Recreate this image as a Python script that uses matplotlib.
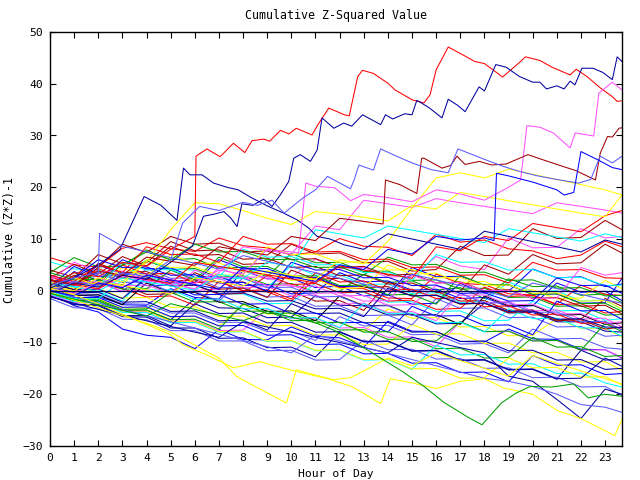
import matplotlib
matplotlib.use("Agg")
import matplotlib.pyplot as plt

plt.rcParams['font.family'] = ['DejaVu Sans Mono']

# hourly grid for the bulk of the walks
hours = list(range(24)) + [23.7]

# colours seen in the picture
red = '#ff0000'
green = '#00a000'
blue = '#0000ff'
magenta = '#ff50ff'
cyan = '#00ffff'
darkred = '#a00000'
yellow = '#ffff00'
black = '#000000'
navy = '#0000a0'
peri = '#5a5aff'

bulk = [
    [6.4, 5.0, 4.6, 8.2, 9.3, 8.1, 7.6, 10.2, 8.7, 8.3, 6.9, 7.5, 10.1, 8.6, 8.4, 6.8, 10.9, 9.4, 9.8, 8.1, 7.7, 6.2, 6.9, 9.6, 8.5],
    [1.5, 0.2, 3.9, 2.5, 5.8, 4.1, 4.3, 2.6, 2.9, 1.2, 1.4, -0.3, -0.1, 3.2, 1.6, 1.9, 0.1, 0.6, -1.5, 2.3, 0.8, 0.9, -0.9, -0.6, -2.3],
    [0.5, -0.8, -1.1, -2.7, -2.8, 0.4, -1.3, -1.6, 3.9, 2.3, 2.4, 0.6, 0.9, -1.0, -0.8, -2.6, -2.4, 1.4, -0.4, -0.1, 4.2, 2.5, 2.7, 0.8, 1.3],
    [2.0, 0.9, 0.8, 3.6, 1.8, 1.9, 0.1, 0.3, 4.1, 2.3, 2.6, 6.1, 4.3, 4.5, 2.6, 2.9, 6.6, 4.8, 4.1, 10.2, 8.3, 8.4, 12.0, 10.2, 10.5],
    [5.6, 4.2, 4.0, 2.3, 6.0, 4.2, 4.0, 2.2, 2.4, 0.6, 4.9, 3.0, 3.1, 1.2, 1.3, -0.6, -0.4, -2.3, -2.0, 1.7, -0.2, 0.0, -2.0, -1.8, -3.6],
    [2.5, 5.1, 3.2, 6.6, 4.8, 8.6, 6.8, 7.0, 5.1, 5.3, 9.0, 7.1, 7.3, 5.4, 5.7, 3.8, 4.1, 8.6, 6.8, 6.9, 12.0, 10.1, 10.3, 13.6, 11.8],
    [0.0, -1.4, -1.6, -3.3, -3.3, -5.1, -5.0, -6.8, -2.7, -4.5, -4.4, -6.2, -6.1, -7.9, -3.5, -5.3, -5.2, -7.0, -6.9, -8.7, -8.6, -5.4, -7.3, -7.2, -9.0],
    [-0.5, -1.9, -2.1, -3.8, -3.9, -5.6, -1.5, -3.3, -3.4, -5.2, -5.1, -0.9, -2.8, -2.9, -4.7, -4.6, -6.4, -6.3, -2.4, -4.3, -4.2, -6.0, -6.0, -7.8, -8.0],
    [0.8, -0.6, -0.7, -2.5, -2.6, -4.3, -4.3, -6.1, -6.1, -7.9, -7.8, -9.6, -5.0, -6.8, -6.7, -8.5, -8.4, -10.3, -10.2, -12.0, -7.4, -9.3, -9.2, -11.0, -11.3],
    [-0.3, -2.9, -4.1, -7.4, -8.6, -9.0, -11.2, -7.5, -9.4, -9.5, -7.0, -8.8, -9.1, -10.9, -5.9, -7.8, -7.9, -9.8, -9.9, -7.4, -9.3, -9.4, -11.3, -11.4, -13.0],
    [0.9, 2.6, 1.3, 0.4, -1.2, -1.0, -2.8, 1.8, 0.0, -0.2, -2.0, 2.4, 0.6, 0.4, -1.4, -1.5, 3.2, 1.4, 1.2, -0.6, -0.8, -2.6, 1.1, -0.7, -0.9],
    [3.5, 6.4, 4.6, 4.8, 7.9, 6.0, 6.2, 4.4, 4.5, 2.7, 7.2, 5.4, 5.5, 3.7, 3.8, 2.0, 2.1, 0.3, 0.5, -1.3, -1.2, -3.0, -2.9, -4.7, -4.6],
    [2.2, 0.9, 5.0, 3.2, 3.3, 1.5, 1.6, 6.0, 4.2, 4.3, 2.5, 2.6, 0.8, 0.9, -0.9, 4.5, 2.7, 2.8, 1.0, 1.1, -0.7, -0.6, -2.4, -2.3, 2.4],
    [-0.8, -2.3, -2.3, -4.1, -4.0, -5.9, -5.8, -7.7, -7.6, -3.5, -5.4, -5.3, -7.2, -7.1, -9.0, -8.9, -10.8, -6.0, -7.9, -7.8, -9.7, -9.6, -11.5, -11.4, -12.9],
    [1.2, -0.2, -0.1, -2.0, 3.0, 1.1, 1.2, -0.7, -0.6, -2.5, -2.4, 1.5, -0.4, -0.3, -2.2, -2.1, -4.0, -3.9, -5.8, -5.7, -2.0, -3.9, -3.8, -5.7, -5.4],
    [0.3, 3.0, 1.1, 1.2, -0.7, -0.6, 3.5, 1.6, 1.7, -0.2, -0.1, -2.0, -1.9, -3.8, 1.7, -0.2, -0.1, -2.0, -1.9, -3.8, -3.7, -5.6, -5.5, -1.5, -3.0],
    [1.8, 0.4, 0.5, -1.4, -1.3, -3.2, -3.1, -5.0, -4.9, -6.8, -6.7, -8.6, -8.5, -10.4, -10.3, -6.5, -8.4, -8.3, -10.2, -10.1, -12.0, -11.9, -13.8, -13.7, -15.4],
    [-1.0, -2.7, -2.9, -5.0, -5.1, -7.2, -7.2, -9.2, -9.1, -11.0, -10.9, -12.8, -8.0, -9.9, -9.8, -11.7, -11.6, -13.5, -13.4, -15.3, -15.2, -17.1, -11.5, -13.4, -13.2],
    [3.0, 1.6, 1.7, -0.2, 4.3, 2.4, 2.5, 0.6, 0.7, -1.2, -1.1, -3.0, -2.9, -4.8, -4.7, -6.6, -1.5, -3.4, -3.3, -5.2, -5.1, -7.0, -6.9, -8.8, -8.6],
    [1.5, 0.2, 4.3, 2.5, 2.7, 0.9, 1.1, -0.7, -0.5, 3.0, 1.2, 1.4, -0.4, -0.2, -2.0, -1.8, -3.6, -3.4, 0.7, -1.1, -0.9, -2.7, -2.5, -4.3, -4.0],
    [-0.2, -1.6, -1.7, -3.6, -3.5, -0.3, -2.2, -2.1, -4.0, -3.9, -5.8, -5.7, -7.6, -7.5, -9.4, -9.3, -11.2, -11.1, -13.0, -12.9, -9.0, -10.9, -10.8, -12.7, -12.5],
    [0.0, 3.7, 1.9, 6.0, 4.2, 4.4, 2.6, 2.8, 1.0, 1.2, -0.6, -0.4, 3.5, 1.7, 1.9, 0.1, 0.3, -1.5, -1.3, -3.1, -2.9, 1.5, -0.3, -0.1, -1.9],
    [2.8, 1.5, 1.7, -0.1, 0.1, 4.0, 2.2, 2.4, 0.6, 0.8, -1.0, -0.8, -2.6, -2.4, -4.2, -4.0, -5.8, -0.5, -2.3, -2.1, -3.9, -3.7, -5.5, -5.3, -7.0],
    [-0.6, -2.1, -2.2, -4.2, -4.2, -6.2, -6.1, -8.0, -7.9, -9.8, -9.7, -11.6, -11.5, -13.4, -13.3, -15.2, -10.5, -12.4, -12.3, -14.2, -14.1, -16.0, -15.9, -17.8, -18.6],
    [4.0, 2.6, 7.0, 5.2, 5.4, 9.5, 7.7, 7.9, 6.1, 6.3, 4.5, 4.7, 2.9, 3.1, 1.3, 1.5, -0.3, -0.1, 5.0, 3.2, 7.0, 5.2, 5.4, 9.0, 7.3],
    [-0.3, -1.8, -1.9, -3.9, -3.9, -5.9, -5.9, -7.9, -7.8, -9.7, -9.6, -11.5, -11.4, -13.3, -13.2, -15.1, -15.0, -16.9, -16.8, -13.0, -14.9, -14.8, -16.7, -16.6, -18.2],
    [0.5, -0.9, -0.8, -2.7, 1.5, -0.4, -0.3, -2.2, -2.1, -4.0, -3.9, -5.8, -1.0, -2.9, -2.8, -4.7, -4.6, -6.5, -1.0, -2.9, -2.8, -4.7, -4.6, -6.5, -6.2],
    [1.0, -0.4, -0.3, -2.2, -2.1, -4.0, -3.9, -5.8, -5.7, -7.6, -2.5, -4.4, -4.3, -6.2, -6.1, -8.0, -7.9, -9.8, -9.7, -11.6, -11.5, -13.4, -13.3, -15.2, -15.0],
    [-1.5, -3.3, -3.4, -5.5, -5.6, -7.7, -7.7, -9.7, -9.7, -11.6, -11.5, -13.4, -13.3, -9.5, -11.4, -11.3, -13.2, -13.1, -15.0, -14.9, -16.8, -16.7, -18.6, -18.5, -20.2],
    [0.8, 4.7, 2.8, 2.9, 1.0, 1.1, -0.8, -0.7, -2.6, -2.5, -4.4, -4.3, -6.2, -6.1, -8.0, -3.0, -4.9, -4.8, -6.7, -6.6, -8.5, -2.0, -3.9, -3.8, -5.5],
    [2.6, 1.3, 1.5, 5.0, 3.2, 3.4, 1.6, 1.8, 0.0, 0.2, -1.6, 3.5, 1.7, 1.9, 0.1, 0.3, -1.5, -1.3, -3.1, -2.9, -4.7, -4.5, -6.3, -6.1, -7.5],
    [-0.4, -1.9, -1.9, -3.8, -3.7, -5.6, -5.5, -7.4, -2.5, -4.4, -4.3, -6.2, -6.1, -8.0, -7.9, -9.8, -9.7, -6.0, -7.9, -7.8, -9.7, -9.6, -11.5, -6.3, -7.9],
    [0.2, -1.3, -1.3, -3.2, -3.1, -5.0, -4.9, -6.8, -6.7, -8.6, -8.5, -10.4, -10.3, -12.2, -12.1, -14.0, -13.9, -15.8, -15.7, -17.6, -12.5, -14.4, -14.3, -16.2, -16.0],
    [1.8, 5.5, 3.7, 3.8, 1.9, 2.0, 0.1, 4.5, 2.6, 2.7, 0.8, 0.9, -1.0, -0.9, -2.8, -2.7, 1.0, -0.9, -0.8, -2.7, -2.6, -4.5, -4.4, -6.3, -6.0],
    [-0.1, -1.5, -1.6, 2.0, 0.1, 0.2, -1.7, -1.6, -3.5, -3.4, -5.3, -5.2, -7.1, -2.5, -4.4, -4.3, -6.2, -6.1, -8.0, -3.5, -5.4, -5.3, -7.2, -7.1, -8.8],
    [2.2, 0.9, 5.3, 3.5, 3.7, 1.9, 2.1, 0.3, 0.5, -1.3, 4.0, 2.2, 2.4, 0.6, 0.8, -1.0, -0.8, -2.6, -2.4, -4.2, -4.0, -5.8, -5.6, -7.4, -7.0],
    [1.3, 0.0, 0.2, 4.5, 2.7, 7.0, 5.2, 5.4, 3.6, 3.8, 2.0, 2.2, 0.4, 0.6, 5.0, 3.2, 3.4, 1.6, 1.8, 0.0, 0.2, -1.6, -1.4, 2.0, 0.4],
    [-1.0, -2.6, -2.7, -4.8, -4.8, -6.8, -2.5, -4.4, -4.3, -6.2, -6.1, -8.0, -7.9, -9.8, -9.7, -11.6, -11.5, -13.4, -13.3, -15.2, -15.1, -17.0, -16.9, -13.0, -14.6],
    [0.6, -0.8, 3.5, 1.6, 1.7, -0.2, -0.1, -2.0, 2.5, 0.6, 0.7, -1.2, -1.1, -3.0, -2.9, -4.8, -4.7, -0.5, -2.4, -2.3, -4.2, -4.1, -6.0, -5.9, -7.6],
    [3.5, 2.1, 2.2, 0.3, 0.4, 4.0, 2.1, 6.5, 4.6, 4.7, 2.8, 2.9, 1.0, 1.1, -0.8, -0.7, -2.6, 3.0, 1.1, 1.2, -0.7, -0.6, -2.5, -2.4, -4.0],
    [2.0, 0.8, 4.5, 9.0, 7.4, 10.5, 9.0, 9.2, 7.5, 7.7, 6.0, 6.2, 4.5, 4.7, 3.0, 3.2, 1.5, 1.7, 0.0, 0.2, -1.5, -1.3, -3.0, -2.8, -4.5],
    [1.0, 3.5, 2.0, 5.0, 7.5, 6.0, 9.0, 7.5, 7.6, 6.0, 6.1, 4.5, 4.6, 3.0, 6.5, 5.0, 5.1, 3.5, 3.6, 2.0, 2.1, 0.5, 0.6, -1.0, -0.9],
    [3.0, 1.8, 5.0, 3.5, 8.5, 7.0, 7.1, 5.5, 10.5, 9.0, 9.1, 7.5, 7.6, 6.0, 6.1, 4.5, 4.6, 3.0, 3.1, 1.5, 5.5, 4.0, 4.1, 2.5, 2.4],
    [2.0, 0.8, 0.9, 5.5, 4.0, 4.1, 2.5, 2.6, 8.0, 6.5, 6.6, 5.0, 5.1, 3.5, 3.6, 2.0, 7.0, 5.5, 5.6, 4.0, 4.1, 2.5, 2.6, 1.0, 1.1],
    [1.0, -0.2, 2.5, 1.0, 1.1, -0.5, 4.0, 2.5, 2.6, 1.0, 1.1, -0.5, -0.4, -2.0, -1.9, 3.0, 1.5, 1.6, 0.0, 0.1, -1.5, -1.4, 4.5, 3.0, 3.5],
    [0.0, 2.5, 6.0, 4.5, 4.6, 3.0, 3.1, 1.5, 1.6, 0.0, 5.5, 4.0, 4.1, 2.5, 2.6, 1.0, 1.1, -0.5, -0.4, -2.0, -1.9, 2.5, 1.0, 1.1, -0.5],
    [1.5, 0.2, 0.3, -1.5, 2.5, 1.0, 1.1, -0.5, -0.4, -2.0, -1.9, -3.5, -3.4, -5.0, 0.5, -1.0, -0.9, -2.5, -2.4, -4.0, -3.9, -5.5, -5.4, -7.0, -7.1],
    [0.5, 2.5, 1.0, 1.1, 6.0, 4.5, 4.6, 3.0, 3.1, 8.5, 7.0, 7.1, 5.5, 5.6, 4.0, 4.1, 2.5, 2.6, 1.0, 1.1, -0.5, -0.4, -2.0, -1.9, -3.5],
    # walks that end in the middle band
    [2.0, 1.1, 0.3, 2.8, 2.0, 1.2, 0.4, 3.5, 8.5, 7.8, 7.1, 12.5, 11.8, 17.5, 16.8, 16.1, 17.8, 17.0, 16.3, 15.6, 14.9, 17.0, 16.3, 15.6, 15.0],
    [1.5, 0.7, -0.1, 2.5, 1.7, 0.9, 0.1, 3.2, 2.4, 5.5, 4.7, 11.8, 11.0, 10.2, 12.5, 11.7, 10.9, 10.1, 9.3, 12.0, 11.2, 10.4, 9.6, 11.0, 10.3],
    [2.0, 1.2, 0.4, 3.0, 2.2, 1.4, 5.5, 4.7, 3.9, 3.1, 2.3, 1.5, 4.8, 4.0, 3.2, 2.4, 8.5, 7.7, 10.5, 9.7, 13.0, 12.2, 11.4, 14.5, 15.5],
    [0.3, -0.6, 1.8, 1.0, 0.2, -0.6, 2.5, 1.7, 0.9, 3.8, 3.0, 2.2, 6.0, 5.2, 9.5, 16.0, 21.8, 22.8, 21.8, 23.5, 22.5, 21.5, 20.5, 19.5, 18.5],
    [0.8, 0.0, 2.5, 1.7, 5.5, 11.8, 17.0, 16.8, 15.5, 14.0, 12.8, 15.3, 14.8, 14.2, 13.5, 16.5, 15.8, 19.0, 18.2, 17.4, 16.6, 15.8, 15.0, 14.3, 18.5],
    [-1.2, -2.4, -3.6, -4.7, -5.8, -6.9, -8.0, -9.0, -6.0, -7.0, -8.0, -9.0, -10.0, -11.0, -12.0, -9.0, -10.0, -11.0, -12.0, -16.5, -17.5, -21.0, -24.7, -19.0, -20.0],
    [0.0, -1.2, -2.4, -3.6, -4.8, -6.0, -7.2, -8.4, -9.6, -10.8, -12.0, -8.5, -9.7, -10.9, -12.1, -13.3, -14.5, -15.7, -16.9, -17.5, -18.5, -20.0, -22.0, -22.5, -23.5],
]
bulk_colors = [red, green, blue, magenta, cyan, darkred, yellow, navy, peri, blue,
               red, green, blue, magenta, cyan, darkred, yellow, navy, peri, red,
               green, blue, magenta, cyan, darkred, yellow, black, navy, peri, blue,
               red, green, blue, magenta, cyan, darkred, yellow, navy, peri, green,
               darkred, green, red, cyan, magenta, blue, navy, yellow,
               magenta, cyan, red, yellow, yellow, navy, peri]

# the walks that stand out, each with its own time points
red_top_h = [0, 1, 2, 3, 4, 5, 6.0, 6.05, 6.5, 7.05, 7.6, 8.07, 8.37, 8.85, 9.1, 9.55, 9.9, 10.2, 10.86, 11.1, 11.55, 12.2, 12.4, 12.75,
             12.95, 13.4, 14.0, 14.3, 15.0, 15.5, 15.75, 16.0, 16.5, 17.1, 17.6, 18.0, 18.35, 18.75, 19.45, 19.7, 20.3, 20.8,
             21.55, 21.8, 22.25, 22.8, 23.3, 23.5, 23.7]
red_top_v = [1.0, 3.5, 2.7, 5.5, 4.7, 8.0, 10.5, 26.0, 27.4, 25.9, 28.5, 26.7, 29.0, 29.3, 28.9, 31.0, 30.3, 31.4, 30.1, 32.1, 35.3, 34.0,
             33.8, 41.4, 42.6, 42.0, 40.1, 38.8, 36.9, 36.3, 37.9, 42.7, 47.1, 45.6, 44.3, 43.9, 42.7, 41.3, 44.1, 45.2, 44.5, 43.2,
             41.7, 42.8, 41.4, 39.2, 37.5, 36.6, 36.7]

blue_a_h = [0, 1, 2, 2.9, 3.9, 4.6, 5.26, 5.53, 5.8, 6.3, 6.78, 7.33, 7.8, 8.3, 9.0, 9.68, 10.24, 10.72, 11.07, 11.6, 12.17, 13, 14,
            15, 16, 17, 18, 19, 20, 21, 22, 23, 23.7]
blue_a_v = [0.5, 2.5, 5.0, 8.0, 18.2, 16.5, 13.6, 23.7, 22.4, 22.4, 20.8, 20.0, 19.5, 18.1, 16.4, 15.0, 13.7, 12.1, 10.5, 10.0, 8.9,
            8.0, 11.0, 10.0, 9.0, 8.0, 11.5, 10.5, 9.5, 8.5, 7.5, 9.8, 9.0]

blue_b_h = [0, 1, 2, 3, 4, 5, 5.9, 6.36, 6.8, 7.2, 7.5, 7.75, 7.95, 8.4, 8.85, 9.2, 9.54, 9.89, 10.1, 10.37, 10.79, 11.07, 11.27, 11.76,
            12.17, 12.5, 12.95, 13.7, 13.9, 14.2, 14.7, 15.0, 15.2, 15.7, 16.24, 16.5, 16.9, 17.2, 17.78, 18.0, 18.47, 18.9, 19.45,
            20.0, 20.3, 20.57, 21.0, 21.3, 21.55, 21.75, 22.04, 22.5, 22.9, 23.3, 23.5, 23.7]
blue_b_v = [-0.5, 1.5, 0.7, 3.0, 2.2, 5.5, 8.6, 14.4, 14.8, 15.3, 14.0, 12.4, 16.8, 16.5, 17.7, 16.3, 18.5, 21.1, 25.6, 26.3, 25.0, 27.2,
            33.4, 31.4, 32.4, 31.8, 34.0, 32.1, 34.0, 33.2, 34.2, 34.0, 36.8, 35.4, 33.4, 37.0, 35.8, 34.6, 39.4, 38.6, 43.7, 43.2,
            41.4, 40.3, 40.3, 39.0, 39.6, 39.0, 40.5, 39.8, 43.0, 43.0, 42.2, 40.8, 45.2, 44.3]

magenta_top_h = [0, 1, 2, 3, 4, 5, 6, 7, 8, 9, 10, 10.3, 10.6, 11, 11.8, 12.45, 13, 14, 15, 16, 17, 18, 19, 19.5, 19.76, 20.3,
                 20.85, 21.55, 21.76, 22.53, 22.74, 23.3, 23.7]
magenta_top_v = [0.5, -0.5, 1.5, 0.7, 3.0, 2.2, 1.4, 4.0, 3.2, 8.0, 7.5, 7.3, 20.8, 20.2, 19.9, 17.4, 18.6, 18.0, 17.2, 19.5, 18.7,
                 17.5, 20.0, 21.4, 31.9, 31.6, 30.5, 27.6, 30.5, 29.9, 38.2, 40.3, 38.8]

darkred_top_h = [0, 1, 2, 3, 4, 5, 6, 7, 8, 9, 10, 11, 12, 13, 13.8, 13.9, 14.5, 15.2, 15.4, 15.5, 16.24, 16.6, 16.86, 17.2, 17.78,
                 18.3, 18.9, 19.45, 19.8, 20.3, 21.27, 21.8, 22.2, 22.6, 22.8, 23.1, 23.3, 23.58, 23.7]
darkred_top_v = [2.0, 1.2, 3.8, 3.0, 6.5, 5.7, 4.9, 8.5, 7.7, 6.9, 10.5, 9.7, 14.0, 13.4, 12.9, 21.4, 20.5, 18.8, 25.6, 25.6, 23.7,
                 24.2, 26.0, 24.4, 25.0, 24.3, 24.5, 25.6, 26.3, 25.5, 24.0, 23.2, 22.3, 21.4, 26.6, 29.8, 29.7, 31.4, 31.5]

peri_a_h = [0, 1, 2.0, 2.05, 3.0, 4, 5, 6, 7, 8, 9, 10, 11, 12, 13, 14, 15, 16, 17, 18, 19, 20, 21, 22, 23, 23.7]
peri_a_v = [1.0, 2.5, 3.5, 11.1, 8.6, 7.5, 6.4, 5.3, 4.2, 6.8, 5.7, 4.6, 3.5, 2.4, 1.3, 0.2, 3.2, 2.1, 1.0, -0.1, -1.2, 1.5, 0.4, -0.7,
            -1.8, -2.4]

peri_b_h = [0, 1, 2, 3, 4, 5.0, 5.5, 6.2, 7, 8.0, 8.6, 9.2, 9.7, 10.5, 11.0, 11.5, 12.45, 12.6, 12.8, 13.4, 13.7, 14.55, 15.0, 15.8,
            16.5, 16.9, 17.4, 18.05, 18.8, 19.5, 20.2, 21, 21.9, 22.4, 22.8, 23.3, 23.7]
peri_b_v = [-0.3, 1.8, 1.0, 3.5, 2.7, 6.0, 13.1, 16.3, 15.5, 17.1, 16.5, 17.5, 15.0, 18.0, 19.5, 22.1, 19.7, 21.4, 24.3, 23.3, 27.4,
            25.6, 24.7, 23.4, 22.8, 27.4, 26.5, 25.3, 24.0, 23.0, 22.2, 21.5, 20.8, 21.5, 26.0, 24.7, 26.0]

blue_c_h = [0, 1, 2, 3, 4, 5, 6, 7, 8, 9, 10, 11, 12, 13, 14, 15, 16, 17, 18, 18.4, 18.5, 19, 20, 21, 21.3, 21.7, 22.0, 22.7, 23.3,
            23.7]
blue_c_v = [0.0, -1.0, 1.5, 0.6, 3.0, 2.1, 1.2, 0.3, 4.5, 3.6, 2.7, 1.8, 5.0, 4.1, 8.0, 7.1, 10.5, 9.8, 10.2, 9.7, 22.7, 22.2, 21.0,
            19.5, 18.5, 19.0, 26.9, 25.3, 23.8, 23.4]

yellow_low_h = [0, 1, 2, 3, 4, 5, 5.5, 6.5, 7.6, 8.7, 9.3, 10.4, 11.5, 12.5, 13.7, 14.1, 15, 16, 17, 18, 18.8, 20, 21.0, 22.0, 23.4,
                23.8]
yellow_low_v = [0.5, -0.8, -2.5, -4.5, -6.5, -8.5, -10.4, -12.4, -14.9, -13.7, -14.5, -15.8, -17.0, -18.5, -21.8, -17.0, -17.8,
                -18.9, -17.5, -17.0, -18.8, -20.0, -23.1, -24.7, -28.0, -23.8]

yellow_low2_h = [0, 1, 2, 3, 4, 5, 6, 7, 7.75, 8.5, 9.8, 10.2, 11, 11.75, 12.45, 13, 14, 15, 16, 17, 18, 19, 20, 21, 22, 23, 23.7]
yellow_low2_v = [-0.3, -1.8, -3.3, -4.8, -6.3, -8.0, -10.5, -13.0, -16.6, -18.5, -21.7, -15.3, -16.3, -17.2, -16.8, -15.5, -13.0,
                 -14.5, -12.0, -13.5, -15.0, -16.5, -12.5, -14.0, -15.5, -17.0, -18.0]

green_low_h = [0, 1, 2, 3, 4, 5, 6, 7, 8, 9, 10, 11, 11.8, 13, 14.6, 15.5, 16.3, 17.3, 17.9, 18.7, 19.3, 19.9, 20.8, 21.7, 22.3, 23.0,
               23.7]
green_low_v = [-0.5, -1.6, -2.7, -3.8, -4.9, -2.5, -3.6, -4.7, -5.8, -4.0, -5.1, -6.2, -7.7, -11.0, -15.6, -18.5, -21.5, -24.4, -25.9,
               -21.7, -19.8, -18.5, -18.6, -18.0, -20.7, -20.0, -20.4]

special = [
    (red_top_h, red_top_v, red),
    (blue_a_h, blue_a_v, navy),
    (blue_b_h, blue_b_v, navy),
    (magenta_top_h, magenta_top_v, magenta),
    (darkred_top_h, darkred_top_v, darkred),
    (peri_a_h, peri_a_v, peri),
    (peri_b_h, peri_b_v, peri),
    (blue_c_h, blue_c_v, blue),
    (yellow_low_h, yellow_low_v, yellow),
    (yellow_low2_h, yellow_low2_v, yellow),
    (green_low_h, green_low_v, green),
]

fig = plt.figure(figsize=(6.4, 4.8), dpi=100)
ax = fig.add_axes([50 / 640, 34 / 480, 572 / 640, 414 / 480])

for vals, c in zip(bulk, bulk_colors):
    ax.plot(hours, vals, color=c, lw=0.75)

for h, v, c in special:
    ax.plot(h, v, color=c, lw=0.75)

ax.axhline(0, color='#000060', lw=0.9)

ax.set_xlim(0, 23.7)
ax.set_ylim(-30, 50)
ax.set_xticks(range(24))
ax.set_yticks(range(-30, 51, 10))
ax.tick_params(direction='in', length=4, width=0.8, top=True, right=True, labelsize=8.2, pad=5, colors='black')
for s in ax.spines.values():
    s.set_linewidth(1.0)

fig.text(336 / 640, 1 - 15 / 480, 'Cumulative Z-Squared Value', ha='center', va='center', fontsize=8.4)
fig.text(336 / 640, 1 - 474 / 480, 'Hour of Day', ha='center', va='center', fontsize=8.2)
fig.text(10 / 640, 1 - 240 / 480, 'Cumulative (Z*Z)-1', ha='center', va='center', rotation=90, fontsize=8.4)

fig.savefig('out.png', dpi=100)
